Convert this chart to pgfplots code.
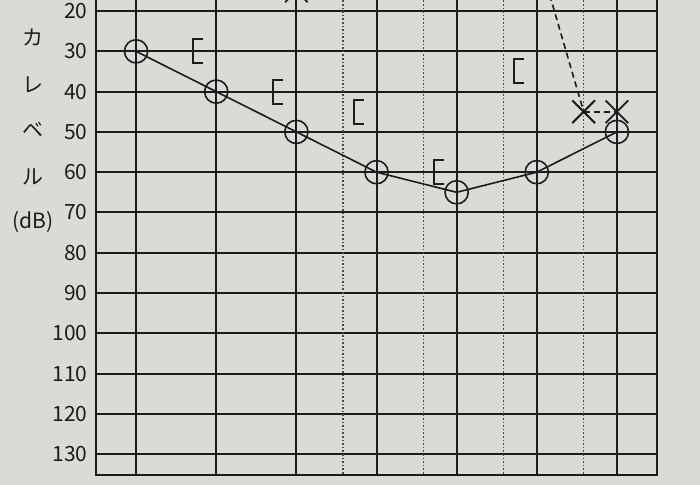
\documentclass[border=0pt]{standalone}
\usepackage{fontspec}
\setmainfont{Noto Sans CJK JP}
\usepackage{pgfplots}
\pgfplotsset{compat=1.18}

\definecolor{paper}{HTML}{D9DBD6}
\definecolor{ink}{HTML}{1C1C1C}

% bone conduction mark "[" drawn to the left of the frequency line
\pgfdeclareplotmark{bracket}{%
  \pgfpathmoveto{\pgfpoint{-6.5pt}{6pt}}%
  \pgfpathlineto{\pgfpoint{-11.5pt}{6pt}}%
  \pgfpathlineto{\pgfpoint{-11.5pt}{-6pt}}%
  \pgfpathlineto{\pgfpoint{-6.5pt}{-6pt}}%
  \pgfusepathqstroke}

\begin{document}
\begin{tikzpicture}
\fill[paper] (-48pt,-5pt) rectangle (302pt,237.5pt);
\useasboundingbox (-48pt,-5pt) rectangle (302pt,237.5pt);

\begin{axis}[
  at={(0,0)}, anchor=south west,
  scale only axis,
  width=280.5pt, height=248.06pt,
  xmin=-0.5, xmax=6.5,
  ymin=12, ymax=135.2,
  y dir=reverse,
  xtick={0,1,2,3,4,5,6},
  xticklabels={},
  ytick={20,30,...,130},
  extra x ticks={2.585,3.585,4.585,5.585},
  extra x tick labels={},
  extra x tick style={grid=major, major grid style={ink!80, line width=0.8pt, densely dotted}},
  major tick length=0pt,
  grid=major,
  major grid style={ink, line width=1pt},
  axis line style={ink, line width=1pt},
  /pgf/number format/assume math mode=true,
  yticklabel style={font=\fontsize{10.5}{12}\selectfont, text=ink, inner sep=0pt, xshift=-4pt},
  clip=false,
]
% right ear air conduction
\addplot[ink, line width=0.8pt, mark=o, mark size=5.8pt, mark options={line width=0.8pt}]
  coordinates {(0,30) (1,40) (2,50) (3,60) (4,65) (5,60) (6,50)};
% right ear bone conduction
\addplot[ink, only marks, mark=bracket, mark options={line width=1pt}]
  coordinates {(1,30) (2,40) (3,45) (4,60) (5,35)};
% left ear air conduction (mostly above the visible part)
\addplot[ink, line width=0.8pt, dash pattern=on 3pt off 2pt, mark=x, mark size=8pt,
  mark options={solid, line width=0.9pt}]
  coordinates {(5.585,45) (6,45)};
\end{axis}

% left ear points above the visible top edge
\begin{scope}
\clip (0,0) rectangle (280.5pt,237.5pt);
\begin{axis}[
  at={(0,0)}, anchor=south west,
  scale only axis,
  width=280.5pt, height=248.06pt,
  xmin=-0.5, xmax=6.5,
  ymin=12, ymax=135.2,
  y dir=reverse,
  hide axis,
  clip=false,
]
\addplot[ink, line width=0.8pt, dash pattern=on 3pt off 2pt, mark=x, mark size=8pt,
  mark options={solid, line width=0.9pt}]
  coordinates {(2,15) (5,5) (5.585,45)};
\end{axis}
\end{scope}

\begin{scope}[font=\fontsize{10.5}{12}\selectfont, text=ink]
\node at (-31.5pt,218.5pt) {カ};
\node at (-31.5pt,195pt) {レ};
\node at (-31.5pt,172.5pt) {ベ};
\node at (-31.5pt,149pt) {ル};
\node at (-31.5pt,126.5pt) {(dB)};
\end{scope}
\end{tikzpicture}
\end{document}
